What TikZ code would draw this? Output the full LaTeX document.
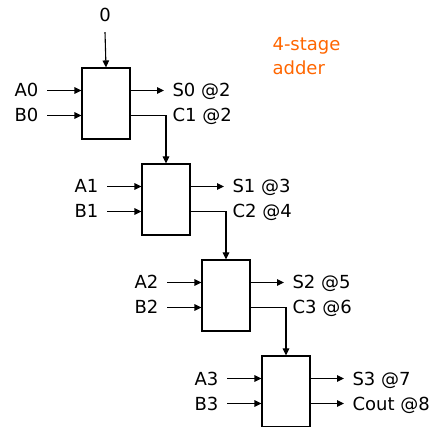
\documentclass[tikz,border=0pt]{standalone}
\usepackage{fontspec}
\setmainfont{DejaVu Sans}
\usetikzlibrary{arrows.meta}
\definecolor{titleorange}{RGB}{255,102,0}
\begin{document}
\begin{tikzpicture}[x=1pt,y=-1pt,
  font=\fontsize{18}{24}\selectfont,
  line width=1.1pt,
  adder/.style={draw,rectangle,minimum width=48pt,minimum height=71pt,inner sep=0pt},
  lbl/.style={inner sep=0pt,text height=13pt,text depth=0pt},
  arr/.style={-{Triangle[length=7pt,width=6.5pt]}}]
\useasboundingbox (0,0) rectangle (439,427);

\foreach \i/\st/\ct in {0/S0 @2/C1 @2,1/S1 @3/C2 @4,2/S2 @5/C3 @6,3/S3 @7/Cout @8} {
  \pgfmathsetmacro\cx{106+60*\i}
  \pgfmathsetmacro\cy{103.5+96*\i}
  \node[adder] (b\i) at (\cx,\cy) {};
  \node[lbl,anchor=east] (a\i) at (\cx-67,\cy-13) {A\i};
  \node[lbl,anchor=east] (bb\i) at (\cx-67,\cy+12) {B\i};
  \draw[arr] ([xshift=8pt]a\i.east) -- (b\i.west |- a\i);
  \draw[arr] ([xshift=8pt]bb\i.east) -- (b\i.west |- bb\i);
  \node[lbl,anchor=west] (s\i) at (\cx+66,\cy-13) {\st};
  \node[lbl,anchor=west] (c\i) at (\cx+66,\cy+12) {\ct};
  \draw[arr] (b\i.east |- s\i) -- ([xshift=-8pt]s\i.west);
}

\node[lbl] (zero) at (105,15) {0};
\draw[arr] ([yshift=-10pt]zero.south) -- (b0.north);

\draw[arr] (b0.east |- c0) -| (b1.north);
\draw[arr] (b1.east |- c1) -| (b2.north);
\draw[arr] (b2.east |- c2) -| (b3.north);
\draw[arr] (b3.east |- c3) -- ([xshift=-8pt]c3.west);

\node[inner sep=0pt,anchor=north west,align=left,text=titleorange] (title) at (272,37) {4-stage\\adder};
\end{tikzpicture}
\end{document}
